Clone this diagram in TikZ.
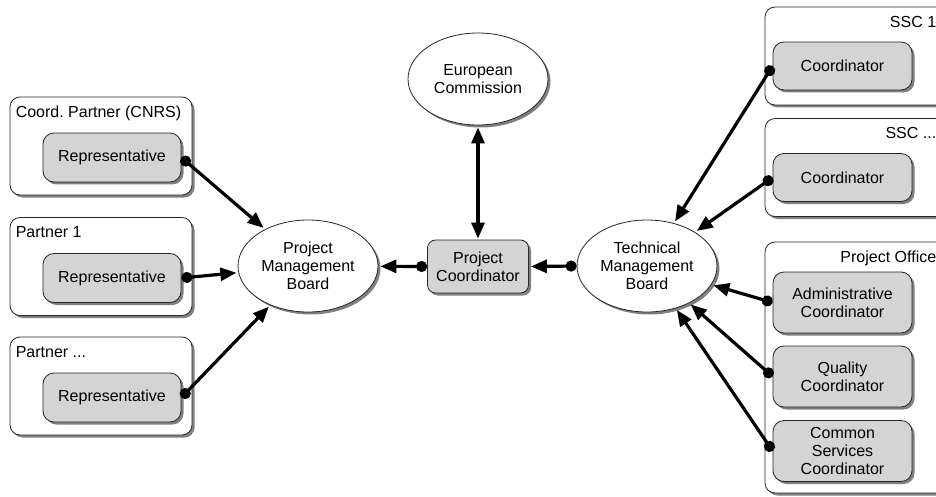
\documentclass[tikz,border=0pt]{standalone}
\usepackage{fontspec}
\setmainfont{Liberation Sans}
\usetikzlibrary{arrows.meta,shapes.geometric,shadows}
\frenchspacing

\newcommand{\moredots}{...}
\colorlet{box edge}{black!85}
\colorlet{box area}{black!17}
\colorlet{shadow area}{black!50}
\tikzset{
  shaded/.style={drop shadow={shadow xshift=2.5pt, shadow yshift=-2.5pt, fill=shadow area, opacity=1}},
  every node/.style={font=\fontsize{16}{18}\selectfont, inner sep=0pt}
  }
\tikzstyle{group} = [draw=box edge, line width=0.8pt, rounded corners=10pt, fill=white, shaded]
\tikzstyle{member} = [draw=box edge, line width=0.8pt, rounded corners=11pt, fill=box area, shaded, align=center]
\tikzstyle{board} = [ellipse, draw=box edge, line width=0.8pt, fill=white, shaded, align=center, minimum width=140pt, minimum height=92pt]
\tikzstyle{link} = [draw, line width=3.2pt, shorten >=2pt, {Circle[length=11pt]}-{Triangle[length=16pt,width=13pt]}]
\tikzstyle{two way} = [draw, line width=3.2pt, shorten >=1pt, shorten <=2pt, {Triangle[length=16pt,width=13pt]}-{Triangle[length=16pt,width=13pt]}]

\begin{document}
\begin{tikzpicture}[x=1pt, y=-1pt]
    \useasboundingbox (0,0) rectangle (936,497);
    \clip (0,0) rectangle (936,497);

    % The partner groups on the left
    \foreach \y/\name/\title in {{146/cnrs/Coord. Partner (CNRS)}, {266.5/pone/Partner 1}, {386/pmore/Partner \moredots}} {
      \node[group, minimum width=182pt, minimum height=98pt] (\name) at (101,\y) {};
      \node[anchor=base west] (\name-label) at ([xshift=6pt, yshift=-20.5pt]\name.north west) {\title};
      \node[member, minimum width=138pt, minimum height=49pt] (\name-rep) at (112,\y+11.5) {Representative};
    }

    % The sub-committees on the right
    \foreach \y/\name/\title in {{56/sscone/SSC 1}, {167.5/sscmore/SSC \moredots}} {
      \node[group, minimum width=183pt, minimum height=98pt] (\name) at (856.5,\y) {};
      \node[anchor=base east] (\name-label) at ([xshift=-12pt, yshift=-20.5pt]\name.north east) {\title};
      \node[member, minimum width=139pt, minimum height=48pt] (\name-coord) at (842.5,\y+10) {Coordinator};
    }

    % The project office
    \node[group, minimum width=183pt, minimum height=251pt] (office) at (856.5,367.5) {};
    \node[anchor=base east] (office-label) at ([xshift=-12pt, yshift=-20.5pt]office.north east) {Project Office};
    \foreach \y/\name/\role in {{302.5/admin/Administrative\\Coordinator}, {376.5/quality/Quality\\Coordinator}, {451/common/Common\\Services\\Coordinator}} {
      \node[member, minimum width=139pt, minimum height=61pt] (\name) at (842.5,\y) {\role};
    }

    % The boards and the coordinator
    \node[board] (pmb) at (308,266) {Project\\Management\\Board};
    \node[board] (tmb) at (647,266) {Technical\\Management\\Board};
    \node[board] (ec) at (478,79) {European\\Commission};
    \node[member, rounded corners=8pt, minimum width=101pt, minimum height=53pt] (pc) at (478,266.5) {Project\\Coordinator};

    % The connections between them
    \foreach \source in {cnrs-rep, pone-rep, pmore-rep} {
      \path[link] (\source.east) -- (pmb);
    }
    \foreach \source in {sscone-coord, sscmore-coord, admin, quality, common} {
      \path[link] (\source.west) -- (tmb);
    }
    \path[link] (pc.west) -- (pmb);
    \path[link] (tmb.west) -- (pc.east);
    \path[two way] (ec) -- (pc);

\end{tikzpicture}
\end{document}
